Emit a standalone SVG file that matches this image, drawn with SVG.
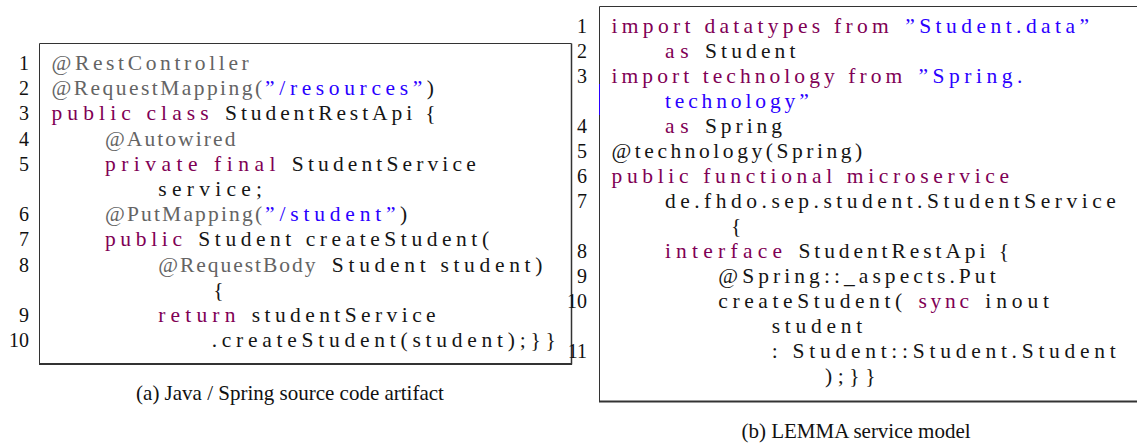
<svg xmlns="http://www.w3.org/2000/svg" width="1137" height="445" viewBox="0 0 1137 445">
  <style>
    text { font-family: "Liberation Serif", "Times New Roman", serif; }
    .code { font-size: 21.5px; fill: #151515; }
    .kw { fill: #7F0055; }
    .str { fill: #2A00FF; }
    .ann { fill: #646464; }
    .ln { font-size: 20px; fill: #111; text-anchor: end; }
    .cap { font-size: 21px; fill: #111; text-anchor: middle; }
    .frame { stroke: #333; fill: none; }
  </style>
  <rect width="1137" height="445" fill="#fff"/>

  <!-- (a) Java / Spring listing -->
  <g id="listing-java">
    <g class="frame">
      <line x1="39.5" y1="43.5" x2="571.5" y2="43.5" stroke-width="1"/>
      <line x1="39.5" y1="43.5" x2="39.5" y2="364" stroke-width="1"/>
      <line x1="571.5" y1="43.5" x2="571.5" y2="364.5" stroke-width="1.5"/>
      <line x1="39" y1="364" x2="572" y2="364" stroke-width="2"/>
    </g>
    <g class="ln">
      <text x="29" y="70">1</text>
      <text x="29" y="95.2">2</text>
      <text x="29" y="120.4">3</text>
      <text x="29" y="145.6">4</text>
      <text x="29" y="170.8">5</text>
      <text x="29" y="221.2">6</text>
      <text x="29" y="246.4">7</text>
      <text x="29" y="271.6">8</text>
      <text x="29" y="322">9</text>
      <text x="29" y="347.2">10</text>
    </g>
    <g class="code">
      <text class="ann" x="51.5" y="70" textLength="197.25" lengthAdjust="spacing">@RestController</text>
      <text class="ann" x="51.5" y="95.2" textLength="210.6" lengthAdjust="spacing">@RequestMapping(</text>
      <text class="str" x="265.1" y="95.2" textLength="157.2" lengthAdjust="spacing">”/resources”</text>
      <text x="426.8" y="95.2">)</text>
      <text class="kw" x="51.5" y="120.4" textLength="157.2" lengthAdjust="spacing">public class</text>
      <text x="225.05" y="120.4" textLength="210.6" lengthAdjust="spacing">StudentRestApi {</text>
      <text class="ann" x="104.9" y="145.6" textLength="130.5" lengthAdjust="spacing">@Autowired</text>
      <text class="kw" x="104.9" y="170.8" textLength="170.55" lengthAdjust="spacing">private final</text>
      <text x="291.8" y="170.8" textLength="183.9" lengthAdjust="spacing">StudentService</text>
      <text x="158.3" y="196" textLength="103.8" lengthAdjust="spacing">service;</text>
      <text class="ann" x="104.9" y="221.2" textLength="157.2" lengthAdjust="spacing">@PutMapping(</text>
      <text class="str" x="265.1" y="221.2" textLength="130.5" lengthAdjust="spacing">”/student”</text>
      <text x="400.1" y="221.2">)</text>
      <text class="kw" x="104.9" y="246.4" textLength="77.1" lengthAdjust="spacing">public</text>
      <text x="198.35" y="246.4" textLength="290.7" lengthAdjust="spacing">Student createStudent(</text>
      <text class="ann" x="158.3" y="271.6" textLength="157.2" lengthAdjust="spacing">@RequestBody</text>
      <text x="331.85" y="271.6" textLength="210.6" lengthAdjust="spacing">Student student)</text>
      <text x="213.2" y="296.8">{</text>
      <text class="kw" x="158.3" y="322" textLength="77.1" lengthAdjust="spacing">return</text>
      <text x="251.75" y="322" textLength="183.9" lengthAdjust="spacing">studentService</text>
      <text x="211.7" y="347.2" textLength="344.1" lengthAdjust="spacing">.createStudent(student);}}</text>
    </g>
    <text class="cap" x="290" y="400">(a) Java / Spring source code artifact</text>
  </g>

  <!-- (b) LEMMA service model listing -->
  <g id="listing-lemma">
    <g class="frame">
      <line x1="599.5" y1="6.5" x2="1137" y2="6.5" stroke-width="1"/>
      <line x1="599.5" y1="6.5" x2="599.5" y2="401.5" stroke-width="1"/>
      <line x1="599" y1="401.5" x2="1137" y2="401.5" stroke-width="2"/>
    </g>
    <line x1="599.5" y1="84" x2="599.5" y2="115" stroke="#2A00FF" stroke-width="1"/>
    <g class="ln">
      <text x="587" y="33">1</text>
      <text x="587" y="58">2</text>
      <text x="587" y="83">3</text>
      <text x="587" y="133">4</text>
      <text x="587" y="158">5</text>
      <text x="587" y="183">6</text>
      <text x="587" y="208">7</text>
      <text x="587" y="258">8</text>
      <text x="587" y="283">9</text>
      <text x="587" y="308">10</text>
      <text x="587" y="358">11</text>
    </g>
    <g class="code">
      <text class="kw" x="611.5" y="33" textLength="277.35" lengthAdjust="spacing">import datatypes from</text>
      <text class="str" x="905.2" y="33" textLength="183.9" lengthAdjust="spacing">”Student.data”</text>
      <text class="kw" x="664.9" y="58" textLength="23.7" lengthAdjust="spacing">as</text>
      <text x="704.95" y="58" textLength="90.45" lengthAdjust="spacing">Student</text>
      <text class="kw" x="611.5" y="83" textLength="290.7" lengthAdjust="spacing">import technology from</text>
      <text class="str" x="918.55" y="83" textLength="103.8" lengthAdjust="spacing">”Spring.</text>
      <text class="str" x="664.9" y="108" textLength="143.85" lengthAdjust="spacing">technology”</text>
      <text class="kw" x="664.9" y="133" textLength="23.7" lengthAdjust="spacing">as</text>
      <text x="704.95" y="133" textLength="77.1" lengthAdjust="spacing">Spring</text>
      <text x="611.5" y="158" textLength="250.65" lengthAdjust="spacing">@technology(Spring)</text>
      <text class="kw" x="611.5" y="183" textLength="397.5" lengthAdjust="spacing">public functional microservice</text>
      <text x="664.9" y="208" textLength="450.9" lengthAdjust="spacing">de.fhdo.sep.student.StudentService</text>
      <text x="731" y="233">{</text>
      <text class="kw" x="664.9" y="258" textLength="117.15" lengthAdjust="spacing">interface</text>
      <text x="798.4" y="258" textLength="210.6" lengthAdjust="spacing">StudentRestApi {</text>
      <text x="718.3" y="283" textLength="277.35" lengthAdjust="spacing">@Spring::_aspects.Put</text>
      <text x="718.3" y="308" textLength="183.9" lengthAdjust="spacing">createStudent(</text>
      <text class="kw" x="918.55" y="308" textLength="50.4" lengthAdjust="spacing">sync</text>
      <text x="985.3" y="308" textLength="63.75" lengthAdjust="spacing">inout</text>
      <text x="771.7" y="333" textLength="90.45" lengthAdjust="spacing">student</text>
      <text x="771.7" y="358" textLength="344.1" lengthAdjust="spacing">: Student::Student.Student</text>
      <text x="825.1" y="383" textLength="50.4" lengthAdjust="spacing">);}}</text>
    </g>
    <text class="cap" x="856" y="438">(b) LEMMA service model</text>
  </g>
</svg>
